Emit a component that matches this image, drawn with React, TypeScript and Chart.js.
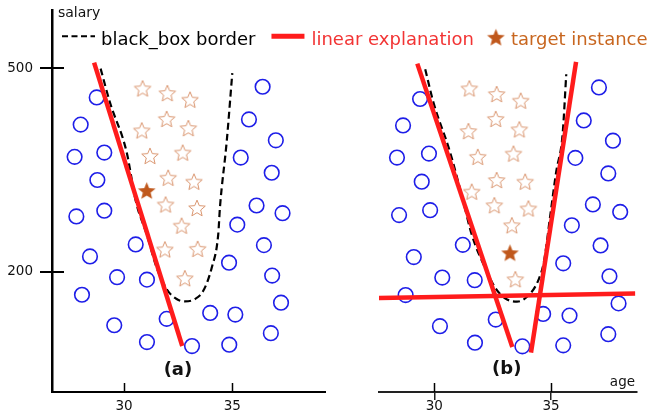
import React, { useEffect, useRef } from 'react';
import { Chart, registerables } from 'chart.js';

Chart.register(...registerables);

// ---------- data (age, salary) ----------
const xTicks = [30, 35];
const yTicks = [200, 500];
const legendLabels = ['black_box border', 'linear explanation', 'target instance'];
const panelLabels = ['(a)', '(b)'];
const axisLabels = ['salary', 'age'];

// panel (a)
const aCircles: number[][] = [
  [28.74, 457], [28.0, 417], [27.72, 369.5], [29.09, 375.8], [28.77, 335.4],
  [36.4, 472.8], [35.77, 424.6], [37.01, 393.9], [35.39, 368.5], [36.82, 346.1],
  [27.8, 281.8], [29.09, 290.2], [36.12, 297.9], [37.32, 286.6], [35.23, 269.7],
  [30.54, 240.5], [36.46, 239.5], [28.43, 222.9], [34.85, 213.6], [29.68, 192.3],
  [31.06, 188.7], [36.84, 194.6], [28.06, 166.4], [37.25, 154.7], [31.97, 130.9],
  [33.98, 139.7], [35.14, 137.2], [29.55, 121.5], [36.78, 109.8], [31.06, 96.7],
  [33.14, 90.9], [34.86, 92.9],
];
const aStars: number[][] = [
  [30.86, 470.3], [32.0, 463.4], [33.05, 453.8], [31.97, 425.4], [30.82, 408.5],
  [32.97, 411.9], [31.2, 370.9], [32.71, 375.8], [32.04, 338.8], [33.23, 333.0],
  [31.92, 299.4], [33.37, 294.2], [32.66, 268.2], [31.89, 233.2], [33.4, 234.0],
  [32.81, 190.8],
];
const aTarget: number[][] = [[31.05, 319.8]];
const aBorder: number[][] = [
  [28.92, 499.5], [29.35, 449.8], [30.12, 376.8], [30.55, 303.7], [31.05, 255.5],
  [31.51, 206.3], [31.97, 174.7], [32.43, 160.1], [32.81, 156.6], [33.28, 160.1],
  [33.66, 172.2], [34.05, 206.3], [34.35, 255.1], [34.43, 295.0], [34.74, 391.4],
  [35.0, 492.7],
];
const aLine: number[][] = [[28.62, 508.3], [32.69, 90.9]];

// panel (b)
const bCircles: number[][] = [
  [29.39, 454.7], [28.66, 415.8], [28.4, 368.5], [29.77, 374.3], [29.46, 333.0],
  [37.05, 471.8], [36.4, 423.1], [37.65, 393.3], [36.04, 368.0], [37.45, 345.1],
  [28.49, 283.7], [29.82, 291.0], [36.79, 299.4], [37.96, 288.4], [35.89, 268.7],
  [31.22, 239.9], [37.12, 239.0], [29.12, 221.9], [35.52, 212.7], [30.34, 191.7],
  [31.73, 187.9], [37.5, 193.7], [28.77, 166.0], [37.89, 153.7], [32.63, 129.9],
  [34.66, 138.2], [35.79, 135.7], [30.24, 120.1], [37.45, 108.4], [31.74, 95.8],
  [33.77, 90.4], [35.52, 91.9],
];
const bStars: number[][] = [
  [31.5, 470.3], [32.67, 462.0], [33.7, 452.3], [32.63, 425.4], [31.46, 407.5],
  [33.64, 410.0], [31.86, 369.5], [33.39, 374.3], [32.67, 335.4], [33.89, 333.0],
  [31.6, 318.3], [32.57, 298.3], [34.03, 293.5], [33.32, 268.7], [33.47, 189.3],
];
const bTarget: number[][] = [[33.24, 228.2]];
const bBorder: number[][] = [
  [29.61, 498.5], [29.96, 449.8], [30.67, 376.8], [31.24, 303.7], [31.6, 255.1],
  [32.17, 206.3], [32.6, 177.1], [33.03, 161.3], [33.54, 156.2], [34.1, 167.9],
  [34.46, 188.3], [34.7, 216.1], [34.96, 281.8], [35.22, 347.6], [35.49, 401.2],
  [35.65, 491.2],
];
const bLineLeft: number[][] = [[29.27, 506.8], [33.34, 89.4]];
const bLineRight: number[][] = [[34.14, 81.2], [36.07, 509.3]];
const bLineFlat: number[][] = [[27.63, 161.6], [38.6, 168.3]];

// panel label anchors (age, salary)
const aLabelAt = [32.49, 55.3];
const bLabelAt = [33.1, 56.8];

// ---------- styles ----------
const FONT = '"DejaVu Sans", Verdana, sans-serif';
const BLUE = '#1e1ee8';
const RED = '#ff1c1c';
const RED_TEXT = '#f23434';
const STAR_LINE = '#da9670';
const TARGET = '#c0581c';
const TARGET_TEXT = '#c8661f';

const pts = (arr: number[][]) => arr.map(([x, y]) => ({ x, y }));

function makeStar(outerR: number, innerR: number, fill: string | null, stroke: string | null, lw: number) {
  const pad = 2;
  const size = Math.ceil(outerR * 2 + pad * 2);
  const c = document.createElement('canvas');
  c.width = size;
  c.height = size;
  const ctx = c.getContext('2d')!;
  ctx.beginPath();
  for (let i = 0; i < 10; i++) {
    const r = i % 2 === 0 ? outerR : innerR;
    const ang = -Math.PI / 2 + (i * Math.PI) / 5;
    ctx.lineTo(size / 2 + r * Math.cos(ang), size / 2 + 0.8 + r * Math.sin(ang));
  }
  ctx.closePath();
  if (fill) {
    ctx.fillStyle = fill;
    ctx.fill();
  }
  if (stroke) {
    ctx.strokeStyle = stroke;
    ctx.lineWidth = lw;
    ctx.lineJoin = 'miter';
    ctx.stroke();
  }
  return c;
}

export default function App() {
  const ref = useRef<HTMLCanvasElement | null>(null);

  useEffect(() => {
    document.body.style.margin = '0';
    const canvas = ref.current!;
    const outlineStar = makeStar(8.7, 3.9, null, STAR_LINE, 1);
    const targetStar = makeStar(9.3, 4.1, TARGET, null, 0);

    const lineDs = (data: number[][], xAxisID: string) => ({
      type: 'line' as const,
      data: pts(data),
      xAxisID,
      yAxisID: 'y',
      borderColor: RED,
      borderWidth: 4.5,
      pointRadius: 0,
      fill: false,
      tension: 0,
    });
    const borderDs = (data: number[][], xAxisID: string) => ({
      type: 'line' as const,
      data: pts(data),
      xAxisID,
      yAxisID: 'y',
      borderColor: '#000',
      borderWidth: 2.2,
      borderDash: [7, 4],
      pointRadius: 0,
      fill: false,
      cubicInterpolationMode: 'monotone' as const,
    });
    const starDs = (data: number[][], xAxisID: string, img: HTMLCanvasElement) => ({
      type: 'scatter' as const,
      data: pts(data),
      xAxisID,
      yAxisID: 'y',
      pointStyle: img,
      pointRadius: 9,
    });
    const circleDs = (data: number[][], xAxisID: string) => ({
      type: 'scatter' as const,
      data: pts(data),
      xAxisID,
      yAxisID: 'y',
      pointStyle: 'circle',
      pointRadius: 7.3,
      borderWidth: 1.6,
      borderColor: BLUE,
      backgroundColor: 'rgba(0,0,0,0)',
    });

    const tickFont = { family: FONT, size: 13.5, lineHeight: 1 };

    const decor = {
      id: 'decor',
      afterDraw(chart: any) {
        const { ctx, chartArea, scales } = chart;
        const y = scales.y;
        const x1 = scales.x1;
        const x3 = scales.x3;
        ctx.save();
        // inner tick halves
        ctx.strokeStyle = '#000';
        ctx.lineWidth = 2;
        y.ticks.forEach((t: any) => {
          const py = Math.round(y.getPixelForValue(t.value));
          ctx.beginPath();
          ctx.moveTo(chartArea.left, py);
          ctx.lineTo(chartArea.left + 12, py);
          ctx.stroke();
        });
        ctx.lineWidth = 1.5;
        [x1, x3].forEach((sc: any) => {
          sc.ticks.forEach((t: any) => {
            const px = Math.round(sc.getPixelForValue(t.value)) + 0.5;
            ctx.beginPath();
            ctx.moveTo(px, chartArea.bottom);
            ctx.lineTo(px, chartArea.bottom - 9);
            ctx.stroke();
          });
        });

        // axis names
        ctx.fillStyle = '#111';
        ctx.textBaseline = 'alphabetic';
        ctx.font = `14px ${FONT}`;
        ctx.textAlign = 'left';
        ctx.fillText(axisLabels[0], chartArea.left + 6, chartArea.top + 7.3);
        ctx.font = `13.5px ${FONT}`;
        ctx.textAlign = 'right';
        ctx.fillText(axisLabels[1], x3.right - 2, chartArea.bottom - 6);

        // panel labels
        ctx.font = `bold 18px ${FONT}`;
        ctx.textAlign = 'center';
        ctx.textBaseline = 'middle';
        ctx.fillStyle = '#111';
        ctx.fillText(panelLabels[0], x1.getPixelForValue(aLabelAt[0]), y.getPixelForValue(aLabelAt[1]));
        ctx.fillText(panelLabels[1], x3.getPixelForValue(bLabelAt[0]), y.getPixelForValue(bLabelAt[1]));

        // legend
        const ly = chartArea.top + 26.3;
        const base = chartArea.top + 34.5;
        let x = chartArea.left + 10;
        ctx.font = `18px ${FONT}`;
        ctx.textAlign = 'left';
        ctx.textBaseline = 'alphabetic';
        ctx.setLineDash([6, 3.5]);
        ctx.strokeStyle = '#000';
        ctx.lineWidth = 2;
        ctx.beginPath();
        ctx.moveTo(x, ly);
        ctx.lineTo(x + 33, ly);
        ctx.stroke();
        ctx.setLineDash([]);
        x += 39;
        ctx.fillStyle = '#000';
        ctx.fillText(legendLabels[0], x, base);
        x += ctx.measureText(legendLabels[0]).width + 16;

        ctx.strokeStyle = RED;
        ctx.lineWidth = 5;
        ctx.beginPath();
        ctx.moveTo(x, ly);
        ctx.lineTo(x + 33, ly);
        ctx.stroke();
        x += 40;
        ctx.fillStyle = RED_TEXT;
        ctx.fillText(legendLabels[1], x, base);
        x += ctx.measureText(legendLabels[1]).width + 22;

        ctx.drawImage(targetStar, x - targetStar.width / 2, ly + 1 - targetStar.height / 2);
        x += 15;
        ctx.fillStyle = TARGET_TEXT;
        ctx.fillText(legendLabels[2], x, base);
        ctx.restore();
      },
    };

    const chart = new Chart(canvas, {
      type: 'scatter',
      data: {
        datasets: [
          lineDs(aLine, 'x1'),
          lineDs(bLineLeft, 'x3'),
          lineDs(bLineRight, 'x3'),
          lineDs(bLineFlat, 'x3'),
          borderDs(aBorder, 'x1'),
          borderDs(bBorder, 'x3'),
          starDs(aTarget, 'x1', targetStar),
          starDs(bTarget, 'x3', targetStar),
          starDs(aStars, 'x1', outlineStar),
          starDs(bStars, 'x3', outlineStar),
          circleDs(aCircles, 'x1'),
          circleDs(bCircles, 'x3'),
        ] as any,
      },
      options: {
        animation: false,
        responsive: false,
        events: [],
        layout: { padding: { top: 0, right: 15, left: 0, bottom: 0 } },
        plugins: {
          legend: { display: false },
          tooltip: { enabled: false },
        },
        scales: {
          y: {
            type: 'linear',
            position: 'left',
            min: 23.2,
            max: 585.8,
            afterBuildTicks: (s: any) => {
              s.ticks = yTicks.map((v) => ({ value: v }));
            },
            afterFit: (s: any) => {
              s.width = 52;
              s.paddingTop = 7;
              s.paddingBottom = 0;
            },
            grid: { display: true, drawOnChartArea: false, drawTicks: true, tickLength: 12, color: '#000', lineWidth: 2 },
            border: { display: true, color: '#000', width: 2.5 },
            ticks: { color: '#111', font: tickFont, padding: 7 },
          },
          x1: {
            type: 'linear',
            axis: 'x',
            position: 'bottom',
            stack: 'panels',
            stackWeight: 273,
            min: 26.676,
            max: 39.28,
            afterBuildTicks: (s: any) => {
              s.ticks = xTicks.map((v) => ({ value: v }));
            },
            afterFit: (s: any) => {
              s.height = 23;
            },
            grid: { display: true, drawOnChartArea: false, drawTicks: false, color: '#000' },
            border: { display: true, color: '#000', width: 2 },
            ticks: { color: '#111', font: tickFont, padding: 8 },
          },
          xgap: {
            type: 'linear',
            axis: 'x',
            position: 'bottom',
            stack: 'panels',
            stackWeight: 54,
            display: false,
          },
          x3: {
            type: 'linear',
            axis: 'x',
            position: 'bottom',
            stack: 'panels',
            stackWeight: 258,
            min: 27.63,
            max: 38.68,
            afterBuildTicks: (s: any) => {
              s.ticks = xTicks.map((v) => ({ value: v }));
            },
            afterFit: (s: any) => {
              s.height = 23;
            },
            grid: { display: true, drawOnChartArea: false, drawTicks: true, tickLength: 8, color: '#222', lineWidth: 1.5 },
            border: { display: true, color: '#222', width: 2 },
            ticks: { color: '#111', font: tickFont, padding: 0 },
          },
        } as any,
      },
      plugins: [decor],
    });

    return () => chart.destroy();
  }, []);

  return (
    <div style={{ width: 652, height: 415, position: 'relative', background: '#fff' }}>
      <canvas ref={ref} width={652} height={415} style={{ display: 'block' }} />
    </div>
  );
}
